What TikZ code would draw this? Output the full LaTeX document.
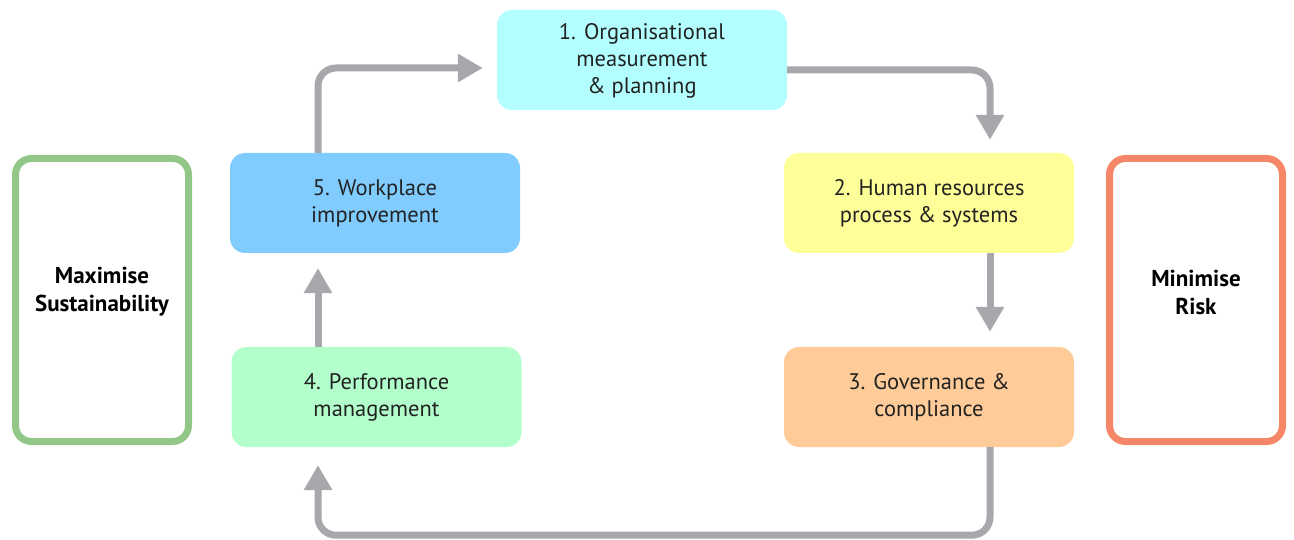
\documentclass[tikz,border=0pt]{standalone}
\usepackage{fontspec}
\setmainfont{PT Sans}
\usetikzlibrary{arrows.meta}
\definecolor{cOne}{HTML}{B3FFFF}
\definecolor{cTwo}{HTML}{FFFF99}
\definecolor{cThree}{HTML}{FFCC99}
\definecolor{cFour}{HTML}{B3FFCC}
\definecolor{cFive}{HTML}{80CCFF}
\definecolor{cGreen}{HTML}{93C788}
\definecolor{cRed}{HTML}{F58667}
\definecolor{cArrow}{HTML}{A8A8AC}
\definecolor{cText}{HTML}{222222}
\tikzset{
  stepbox/.style={rectangle, rounded corners=15pt, minimum width=290pt, minimum height=100pt,
    align=center, text=cText, font=\fontsize{22.5}{27}\selectfont, inner sep=0pt},
  sidebox/.style={rectangle, rounded corners=16pt, minimum width=173pt, minimum height=283pt,
    line width=7pt, fill=white},
  sidetext/.style={align=center, font=\bfseries\fontsize{23}{28}\selectfont, text=black, inner sep=0pt},
  arr/.style={draw=cArrow, line width=7pt, rounded corners=18pt,
    -{Triangle[width=27pt,length=25pt]}}
}
\begin{document}
\begin{tikzpicture}[x=1pt,y=-1pt]
\useasboundingbox (0,0) rectangle (1294,540);
\node[stepbox, fill=cOne, text depth=3pt] (b1) at (642,60) {1. Organisational\\measurement\\\& planning};
\node[stepbox, fill=cTwo] (b2) at (929,203) {2. Human resources\\process \& systems};
\node[stepbox, fill=cThree] (b3) at (929,397) {3. Governance \&\\compliance};
\node[stepbox, fill=cFour] (b4) at (376.5,397) {4. Performance\\management};
\node[stepbox, fill=cFive] (b5) at (375,203) {5. Workplace\\improvement};
\node[sidebox, draw=cGreen] (ms) at (102,300) {};
\node[sidebox, draw=cRed] (mr) at (1196,300) {};
\node[sidetext] (mst) at ([yshift=8pt]ms.center) {Maximise\\Sustainability};
\node[sidetext] (mrt) at ([yshift=8pt]mr.center) {Minimise\\Risk};
\coordinate (upx) at ([xshift=-57pt]b5.south);
\draw[arr, shorten >=14pt] ([xshift=-57pt]b5.north) |- ([yshift=-8pt]b1.west);
\draw[arr, shorten >=13pt] ([yshift=-10pt]b1.east) -| ([xshift=61pt]b2.north);
\draw[arr, shorten >=15pt] ([xshift=61pt]b2.south) -- ([xshift=61pt]b3.north);
\coordinate (lowturn) at ([xshift=61pt,yshift=-88pt]b3.south);
\draw[arr, shorten >=18pt] ([xshift=61pt]b3.south) -- (lowturn) -| (b4.south -| upx);
\draw[arr, shorten >=15pt] (b4.north -| upx) -- (upx);
\end{tikzpicture}
\end{document}
